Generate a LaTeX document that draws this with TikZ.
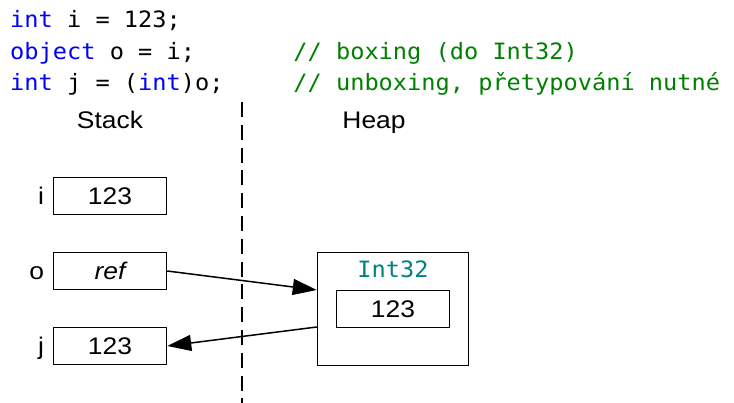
\documentclass[tikz,border=0pt]{standalone}
\usepackage{fontspec}
\setmainfont{Liberation Sans}[FakeStretch=1.1]
\newfontfamily\codefont{DejaVu Sans Mono}[FakeStretch=1.05]
\usetikzlibrary{arrows.meta}

\definecolor{kwblue}{RGB}{0,0,255}
\definecolor{cmgreen}{RGB}{0,128,0}
\definecolor{typeteal}{RGB}{0,128,128}

\newcommand{\kw}[1]{\textcolor{kwblue}{#1}}

\begin{document}
\begin{tikzpicture}[x=1pt,y=-1pt,
  code/.style={anchor=base west, inner sep=0pt,
    font=\codefont\fontsize{22.5}{27}\selectfont},
  comment/.style={code, text=cmgreen},
  title/.style={anchor=base, inner sep=0pt, font=\fontsize{24}{28}\selectfont},
  cell/.style={draw, line width=1.5pt, minimum width=113pt, minimum height=37pt,
    inner sep=0pt, text height=17.2pt, text depth=0pt,
    font=\fontsize{24}{28}\selectfont},
  varname/.style={anchor=base east, inner sep=0pt, font=\fontsize{24}{28}\selectfont},
  heapbox/.style={draw, line width=1.5pt, minimum width=151pt, minimum height=113pt, inner sep=0pt},
  typename/.style={anchor=base, inner sep=0pt, text=typeteal,
    font=\codefont\fontsize{22.5}{27}\selectfont},
  divider/.style={line width=2pt, dash pattern=on 15pt off 7.8pt},
  ptr/.style={line width=1.5pt, -{Triangle[length=24pt,width=16pt]}}
]
\useasboundingbox (0,0) rectangle (734,403);

% source code
\node[code] (l1) at (10,28)   {\kw{int} i = 123;};
\node[code] (l2) at (10,59.5) {\kw{object} o = i;};
\node[code] (l3) at (10,91)   {\kw{int} j = (\kw{int})o;};
\node[comment] (c2) at (293.2,59.5) {// boxing (do Int32)};
\node[comment] (c3) at (293.2,91)   {// unboxing, přetypování nutné};

% column titles and divider
\node[title] (stack) at (110,128.5) {Stack};
\node[title] (heapt) at (374,128.5) {Heap};
\coordinate (dtop) at (242,102);
\coordinate (dbot) at (242,403);
\draw[divider] (dtop) -- (dbot);

% stack variables
\node[cell] (sI) at (110,196) {123};
\node[cell] (sO) at (110,271) {\itshape ref};
\node[cell] (sJ) at (110,346) {123};
\node[varname] (nI) at ([xshift=-8.5pt]sI.base west) {i};
\node[varname] (nO) at ([xshift=-8.5pt]sO.base west) {o};
\node[varname] (nJ) at ([xshift=-8.5pt]sJ.base west) {j};

% boxed object on the heap
\node[heapbox] (heap) at (393,309) {};
\node[typename] (tn) at ([yshift=-26pt]heap.north) {Int32};
\node[cell] (val) at (393,309) {123};

% references
\draw[ptr] (sO.east) -- ([yshift=19pt]heap.west);
\draw[ptr] ([yshift=-18pt]heap.west) -- (sJ.east);
\end{tikzpicture}
\end{document}
